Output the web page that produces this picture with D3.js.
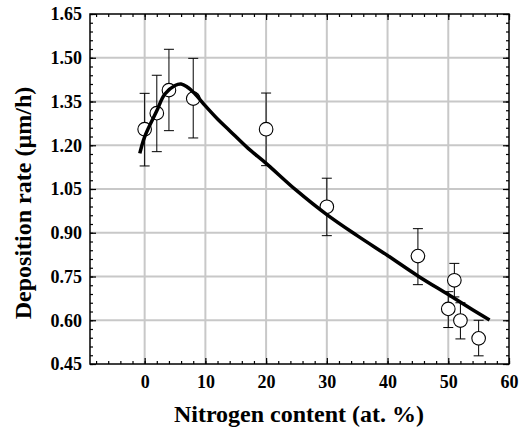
<!DOCTYPE html>
<html lang="en">
<head>
  <meta charset="UTF-8">
  <title>Deposition rate vs nitrogen content</title>
  <style>
    body {
      margin: 0;
      background: #fff;
    }
  </style>
</head>
<body>
  <svg id="chart" width="525" height="432"></svg>

  <script src="https://d3js.org/d3.v7.min.js"></script>
  <script>
    // measured points (at.% N, rate, error bar low / high)
    const nitrogen = [0, 2, 4, 8, 20, 30, 45, 50, 51, 52, 55];
    const rate = [1.255, 1.31, 1.389, 1.36, 1.255, 0.989, 0.82, 0.639, 0.737, 0.599, 0.538];
    const errLow = [1.129, 1.178, 1.25, 1.225, 1.13, 0.89, 0.722, 0.575, 0.68, 0.536, 0.478];
    const errHigh = [1.378, 1.44, 1.529, 1.498, 1.379, 1.087, 0.914, 0.698, 0.795, 0.66, 0.6];

    // fitted curve
    const fitX = [-0.8, 0, 2, 3.3, 5, 6, 7, 8.2, 10, 12, 14, 17, 20, 25, 30, 35, 40, 45, 50, 54, 56.8];
    const fitY = [1.172, 1.229, 1.318, 1.375, 1.405, 1.41, 1.40, 1.378, 1.335, 1.29, 1.25, 1.19, 1.138, 1.045, 0.962, 0.89, 0.822, 0.752, 0.688, 0.636, 0.601];

    const xTicks = [0, 10, 20, 30, 40, 50, 60];
    const yTicks = [0.45, 0.60, 0.75, 0.90, 1.05, 1.20, 1.35, 1.50, 1.65];

    const serif = "Liberation Serif";

    const svg = d3.select("#chart");
    const margin = {top: 14, right: 16, bottom: 68, left: 90};
    const width = 525 - margin.left - margin.right;
    const height = 432 - margin.top - margin.bottom;

    const g = svg.append("g").attr("transform", `translate(${margin.left},${margin.top})`);

    const x = d3.scaleLinear().domain([-9, 60]).range([0, width]);
    const y = d3.scaleLinear().domain([0.45, 1.65]).range([height, 0]);

    // grid
    g.append("g").selectAll("line").data(xTicks.slice(0, -1)).join("line")
      .attr("x1", d => x(d)).attr("x2", d => x(d))
      .attr("y1", 0).attr("y2", height)
      .attr("stroke", "#c8c8c8").attr("stroke-width", 2);
    g.append("g").selectAll("line").data(yTicks.slice(1, -1)).join("line")
      .attr("x1", 0).attr("x2", width)
      .attr("y1", d => y(d)).attr("y2", d => y(d))
      .attr("stroke", "#c8c8c8").attr("stroke-width", 2);

    const xMinor = d3.range(-8, 61, 2);
    const yMinor = d3.range(0, 41).map(i => +(0.45 + i * 0.03).toFixed(2));

    function styleAxis(sel) {
      sel.attr("font-family", serif).attr("font-weight", "bold");
      sel.select(".domain").remove();
      sel.selectAll(".tick line").attr("stroke", "#000").attr("stroke-width", 1.2);
      sel.selectAll("text").attr("font-size", 18).attr("fill", "#000");
    }

    // minor ticks on all four sides
    g.append("g").attr("transform", `translate(0,${height})`)
      .call(d3.axisBottom(x).tickValues(xMinor).tickSize(-3).tickFormat(""))
      .call(styleAxis);
    g.append("g")
      .call(d3.axisTop(x).tickValues(xMinor).tickSize(-3).tickFormat(""))
      .call(styleAxis);
    g.append("g")
      .call(d3.axisLeft(y).tickValues(yMinor).tickSize(-3).tickFormat(""))
      .call(styleAxis);
    g.append("g").attr("transform", `translate(${width},0)`)
      .call(d3.axisRight(y).tickValues(yMinor).tickSize(-3).tickFormat(""))
      .call(styleAxis);

    // major ticks
    g.append("g").attr("transform", `translate(0,${height})`)
      .call(d3.axisBottom(x).tickValues(xTicks).tickSize(-6).tickPadding(11).tickFormat(d3.format("d")))
      .call(styleAxis);
    g.append("g")
      .call(d3.axisTop(x).tickValues(xTicks).tickSize(-6).tickFormat(""))
      .call(styleAxis);
    g.append("g")
      .call(d3.axisLeft(y).tickValues(yTicks).tickSize(-6).tickPadding(8).tickFormat(d3.format(".2f")))
      .call(styleAxis);
    g.append("g").attr("transform", `translate(${width},0)`)
      .call(d3.axisRight(y).tickValues(yTicks).tickSize(-6).tickFormat(""))
      .call(styleAxis);

    // frame
    g.append("rect")
      .attr("width", width).attr("height", height)
      .attr("fill", "none").attr("stroke", "#000").attr("stroke-width", 1.5);

    const pts = nitrogen.map((n, i) => ({n, r: rate[i], lo: errLow[i], hi: errHigh[i]}));

    // error bars
    const eb = g.append("g").attr("stroke", "#000").attr("stroke-width", 1);
    eb.selectAll(".v").data(pts).join("line")
      .attr("x1", d => x(d.n)).attr("x2", d => x(d.n))
      .attr("y1", d => y(d.lo)).attr("y2", d => y(d.hi));
    eb.selectAll(".lo").data(pts).join("line")
      .attr("x1", d => x(d.n) - 5).attr("x2", d => x(d.n) + 5)
      .attr("y1", d => y(d.lo)).attr("y2", d => y(d.lo));
    eb.selectAll(".hi").data(pts).join("line")
      .attr("x1", d => x(d.n) - 5).attr("x2", d => x(d.n) + 5)
      .attr("y1", d => y(d.hi)).attr("y2", d => y(d.hi));

    // markers
    g.append("g").selectAll("circle").data(pts).join("circle")
      .attr("cx", d => x(d.n)).attr("cy", d => y(d.r))
      .attr("r", 6.8)
      .attr("fill", "#fff").attr("stroke", "#000").attr("stroke-width", 1.1);

    // fit curve on top
    const line = d3.line()
      .x((d, i) => x(fitX[i]))
      .y(d => y(d))
      .curve(d3.curveCatmullRom.alpha(0.5));
    g.append("path").datum(fitY)
      .attr("d", line)
      .attr("fill", "none").attr("stroke", "#000").attr("stroke-width", 3.5);

    // axis titles
    svg.append("text")
      .attr("x", 299).attr("y", 422)
      .attr("text-anchor", "middle")
      .attr("font-family", serif).attr("font-weight", "bold")
      .attr("font-size", 24)
      .text("Nitrogen content (at. %)");
    svg.append("text")
      .attr("transform", "translate(31,203) rotate(-90)")
      .attr("text-anchor", "middle")
      .attr("font-family", serif).attr("font-weight", "bold")
      .attr("font-size", 24)
      .text("Deposition rate (µm/h)");
  </script>
</body>
</html>
